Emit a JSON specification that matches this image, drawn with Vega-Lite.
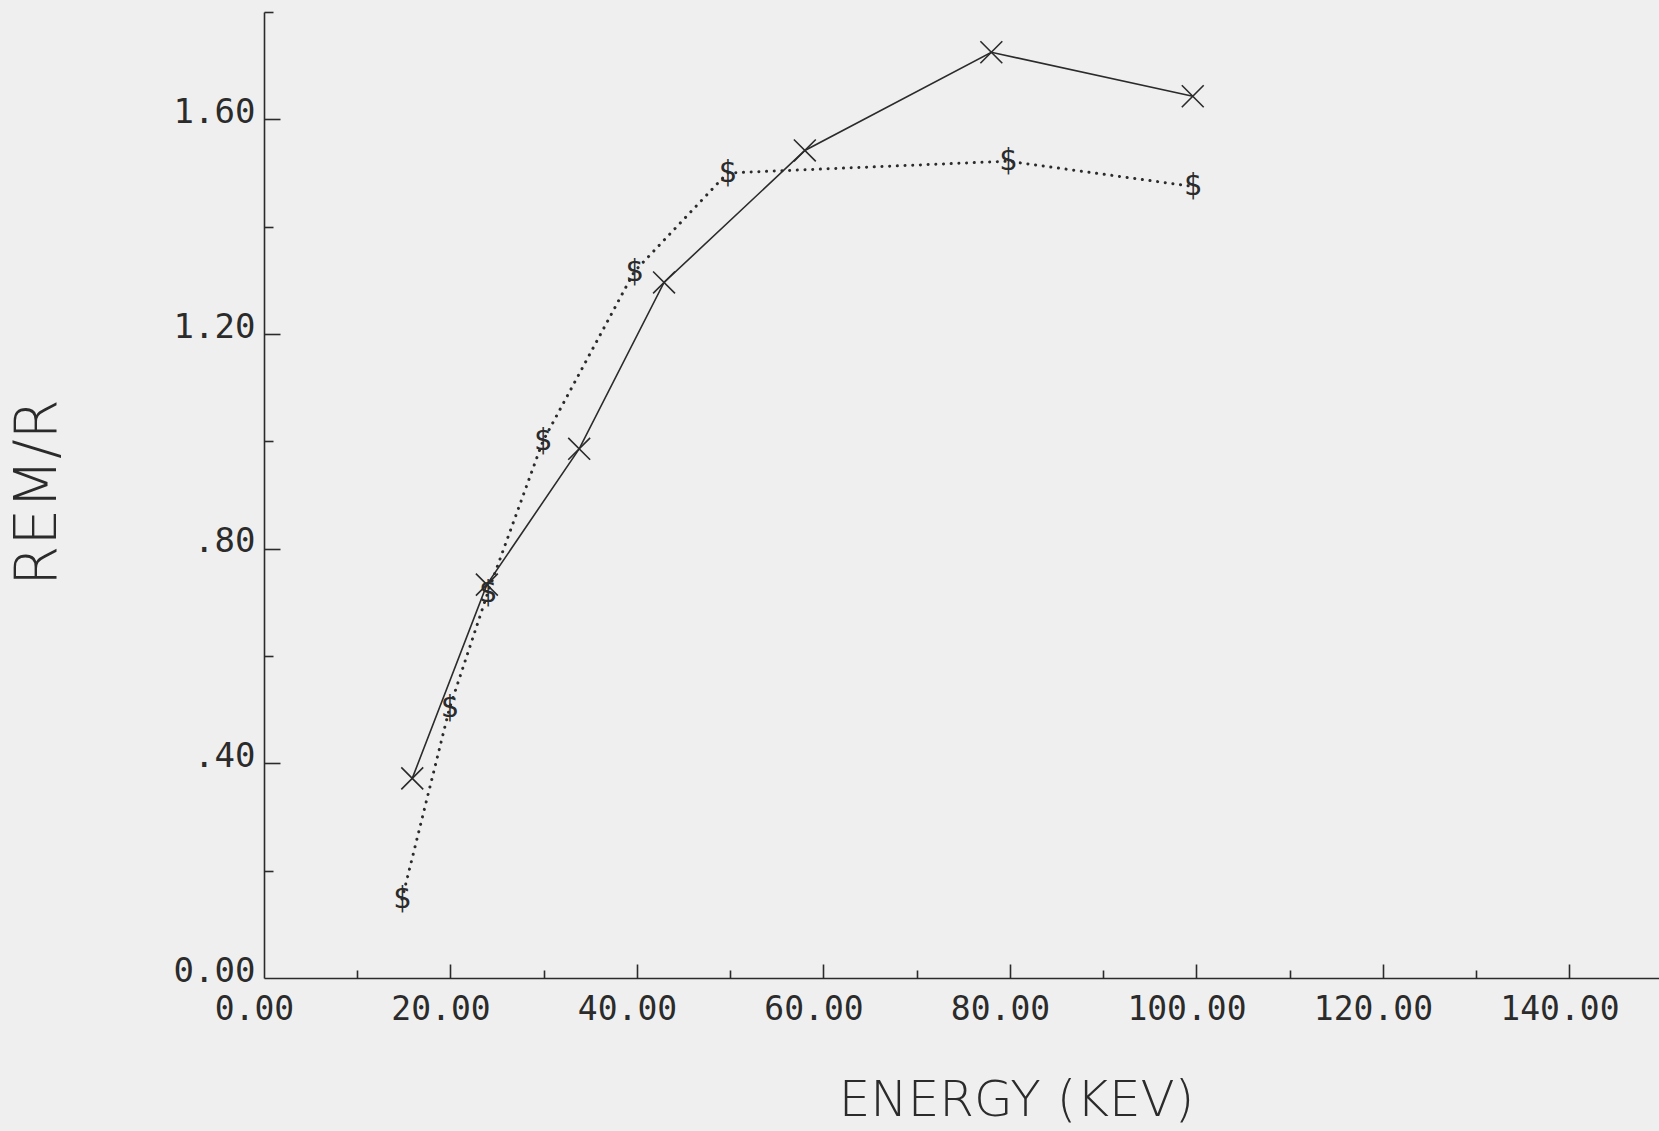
{
  "$schema": "https://vega.github.io/schema/vega-lite/v6.json",
  "width": 1395,
  "height": 966,
  "autosize": {"type": "none"},
  "padding": {"left": 264, "top": 12, "right": 0, "bottom": 153},
  "background": "#efefef",
  "config": {
    "view": {"stroke": null},
    "axis": {
      "grid": false,
      "domainColor": "#2b2b2b",
      "tickColor": "#2b2b2b",
      "labelColor": "#2b2b2b",
      "titleColor": "#2b2b2b",
      "labelFont": "DejaVu Sans Mono",
      "titleFont": "DejaVu Sans",
      "titleFontWeight": 200,
      "domainWidth": 1.6,
      "tickWidth": 1.6
    }
  },
  "data": {
    "values": [
      {"series": "X", "energy": 15.9, "rem": 0.372},
      {"series": "X", "energy": 23.9, "rem": 0.733},
      {"series": "X", "energy": 33.8, "rem": 0.986},
      {"series": "X", "energy": 42.9, "rem": 1.296},
      {"series": "X", "energy": 58.0, "rem": 1.542},
      {"series": "X", "energy": 78.0, "rem": 1.725},
      {"series": "X", "energy": 99.6, "rem": 1.643},
      {"series": "$", "energy": 14.8, "rem": 0.147},
      {"series": "$", "energy": 19.9, "rem": 0.503},
      {"series": "$", "energy": 24.0, "rem": 0.718},
      {"series": "$", "energy": 29.9, "rem": 1.0},
      {"series": "$", "energy": 39.7, "rem": 1.316},
      {"series": "$", "energy": 49.7, "rem": 1.5},
      {"series": "$", "energy": 79.8, "rem": 1.522},
      {"series": "$", "energy": 99.6, "rem": 1.475}
    ]
  },
  "layer": [
    {
      "transform": [{"filter": "datum.series === 'X'"}],
      "mark": {"type": "line", "color": "#2b2b2b", "strokeWidth": 1.6},
      "encoding": {
        "x": {
          "field": "energy", "type": "quantitative",
          "scale": {"domain": [0, 149.6], "nice": false, "zero": true},
          "axis": {
            "orient": "bottom",
            "values": [0, 20, 40, 60, 80, 100, 120, 140],
            "format": ".2f",
            "ticks": false,
            "labelFontSize": 33,
            "labelPadding": 15,
            "labelOffset": -10,
            "labelFlush": false,
            "labelOverlap": false,
            "title": "ENERGY (KEV)",
            "titleFontSize": 50,
            "titleX": 752,
            "titleY": 137,
            "titleAlign": "center",
            "titleBaseline": "alphabetic",
            "titleAnchor": null
          }
        },
        "y": {
          "field": "rem", "type": "quantitative",
          "scale": {"domain": [0, 1.8], "nice": false, "zero": true},
          "axis": {
            "orient": "left",
            "values": [0, 0.4, 0.8, 1.2, 1.6],
            "labelExpr": "datum.value > 0 && datum.value < 1 ? replace(format(datum.value, '.2f'), '0.', '.') : format(datum.value, '.2f')",
            "ticks": false,
            "labelFontSize": 34,
            "labelPadding": 9,
            "labelBaseline": "alphabetic",
            "labelOffset": 3,
            "labelFlush": false,
            "labelOverlap": false,
            "title": "REM/R",
            "titleFontSize": 58,
            "titleX": -226,
            "titleY": 480,
            "titleAngle": 270,
            "titleAlign": "center",
            "titleBaseline": "middle",
            "titleAnchor": null
          }
        }
      }
    },
    {
      "transform": [{"filter": "datum.series === '$'"}],
      "mark": {"type": "line", "color": "#2b2b2b", "strokeWidth": 3, "strokeDash": [0.1, 7.6], "strokeCap": "round"},
      "encoding": {
        "x": {
          "field": "energy", "type": "quantitative",
          "scale": {"domain": [0, 149.6], "nice": false, "zero": true},
          "axis": {"orient": "bottom", "values": [20, 40, 60, 80, 100, 120, 140], "tickSize": -14, "labels": false, "domain": false, "title": null}
        },
        "y": {
          "field": "rem", "type": "quantitative",
          "scale": {"domain": [0, 1.8], "nice": false, "zero": true},
          "axis": {"orient": "left", "values": [0.4, 0.8, 1.2, 1.6], "tickSize": -16, "labels": false, "domain": false, "title": null}
        }
      }
    },
    {
      "transform": [{"filter": "datum.series === 'X'"}],
      "mark": {"type": "point", "shape": "M-1,-1L1,1M-1,1L1,-1", "filled": false, "color": "#2b2b2b", "strokeWidth": 1.6, "size": 480, "opacity": 1},
      "encoding": {
        "x": {
          "field": "energy", "type": "quantitative",
          "scale": {"domain": [0, 149.6], "nice": false, "zero": true},
          "axis": {"orient": "bottom", "values": [10, 30, 50, 70, 90, 110, 130], "tickSize": -8, "labels": false, "domain": false, "title": null}
        },
        "y": {
          "field": "rem", "type": "quantitative",
          "scale": {"domain": [0, 1.8], "nice": false, "zero": true},
          "axis": {"orient": "left", "values": [0.2, 0.6, 1.0, 1.4, 1.8], "tickSize": -9, "labels": false, "domain": false, "title": null}
        }
      }
    },
    {
      "transform": [{"filter": "datum.series === '$'"}],
      "mark": {"type": "text", "font": "DejaVu Sans Mono", "fontSize": 30, "color": "#2b2b2b", "align": "center", "baseline": "middle"},
      "encoding": {
        "x": {"field": "energy", "type": "quantitative", "scale": {"domain": [0, 149.6], "nice": false, "zero": true}, "axis": null},
        "y": {"field": "rem", "type": "quantitative", "scale": {"domain": [0, 1.8], "nice": false, "zero": true}, "axis": null},
        "text": {"field": "series"}
      }
    }
  ],
  "resolve": {"axis": {"x": "independent", "y": "independent"}}
}
